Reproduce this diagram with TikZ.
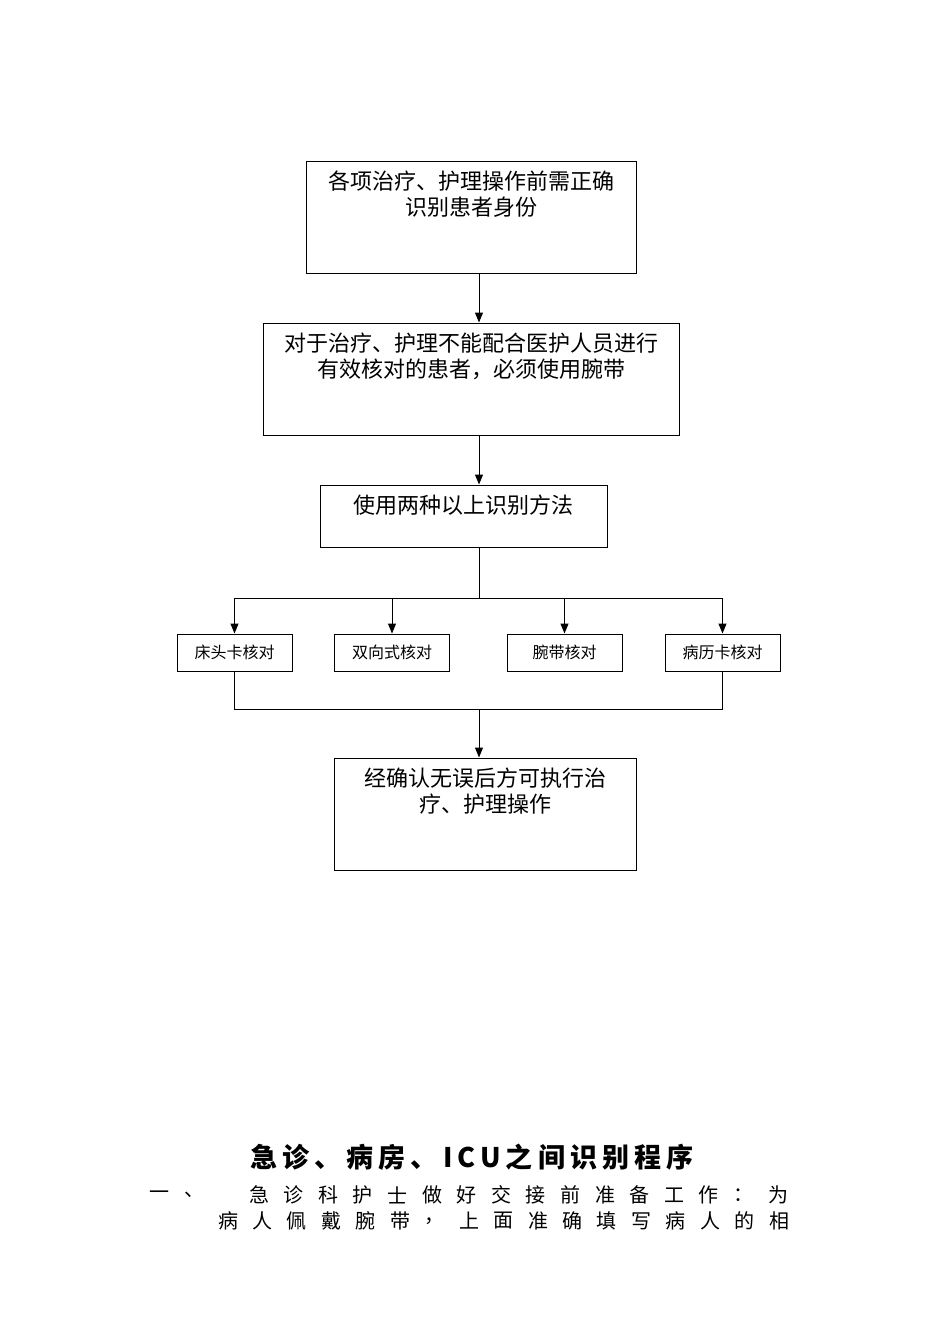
\documentclass[tikz,border=0pt]{standalone}
\usepackage{fontspec}
\setmainfont{Noto Sans CJK SC}
\newfontfamily\titlefont[LetterSpace=19]{Noto Sans CJK SC}
\usetikzlibrary{arrows.meta,positioning}

\begin{document}
\begin{tikzpicture}[x=1pt,y=-1pt,
    box/.style={draw, line width=1pt, inner sep=0pt},
    boxtext/.style={inner sep=0pt, align=center, font=\fontsize{22}{26}\selectfont},
    smallbox/.style={draw, line width=1pt, minimum width=115pt, minimum height=37pt,
                     inner sep=0pt, font=\fontsize{16}{18}\selectfont},
    flow/.style={line width=1pt, -{Triangle[length=10pt,width=8pt]}},
    wire/.style={line width=1pt},
    spaced/.style={inner sep=0pt, font=\fontsize{20}{22}\selectfont}]
    \useasboundingbox (0,0) rectangle (950,1344);

    % Main boxes
    \node[box, minimum width=330pt, minimum height=112pt] (b1) at (471,217) {};
    \node[box, minimum width=416pt, minimum height=112pt] (b2) at (471,379) {};
    \node[box, minimum width=287pt, minimum height=62pt]  (b3) at (463.5,516) {};
    \node[box, minimum width=302pt, minimum height=112pt] (b5) at (485,814) {};

    % Box texts (set at the top of each box)
    \node[boxtext, below=10pt of b1.north] (t1) {各项治疗、护理操作前需正确\\识别患者身份};
    \node[boxtext, below=10pt of b2.north] (t2) {对于治疗、护理不能配合医护人员进行\\有效核对的患者，必须使用腕带};
    \node[boxtext, below=10pt of b3.north] (t3) {使用两种以上识别方法};
    \node[boxtext, below=10pt of b5.north] (t5) {经确认无误后方可执行治\\疗、护理操作};

    % Check methods
    \node[smallbox] (ka) at (234.5,652.5) {床头卡核对};
    \node[smallbox] (kb) at (392,652.5)   {双向式核对};
    \node[smallbox] (kc) at (564.5,652.5) {腕带核对};
    \node[smallbox] (kd) at (722.5,652.5) {病历卡核对};

    % Trunk and junctions
    \coordinate (trunk) at (479,0);
    \coordinate (split) at (479,598);
    \coordinate (merge) at (479,709);

    \draw[flow] (b1.south -| trunk) -- (b2.north -| trunk);
    \draw[flow] (b2.south -| trunk) -- (b3.north -| trunk);
    \draw[wire] (b3.south -| trunk) -- (split);
    \draw[wire] (ka.north |- split) -- (kd.north |- split);
    \foreach \k in {ka,kb,kc,kd}
        \draw[flow] (\k.north |- split) -- (\k.north);
    \draw[wire] (ka.south) -- (ka.south |- merge) -- (kd.south |- merge) -- (kd.south);
    \draw[flow] (merge) -- (b5.north -| merge);

    % Heading and paragraph below
    \node[inner sep=0pt, font=\titlefont\bfseries\fontsize{27}{30}\selectfont] (title) at (472,1157)
        {急诊、病房、ICU之间识别程序};
    \node[spaced] (n1) at (159,1195) {一};
    \node[spaced] (n2) at (194,1195) {、};
    \foreach \c [count=\i from 0] in {急,诊,科,护,士,做,好,交,接,前,准,备,工,作,：,为}
        \node[spaced] (p1-\i) at (259+34.6*\i,1195) {\c};
    \foreach \c [count=\i from 0] in {病,人,佩,戴,腕,带,，,上,面,准,确,填,写,病,人,的,相}
        \node[spaced] (p2-\i) at (228+34.45*\i,1221) {\c};
\end{tikzpicture}
\end{document}
